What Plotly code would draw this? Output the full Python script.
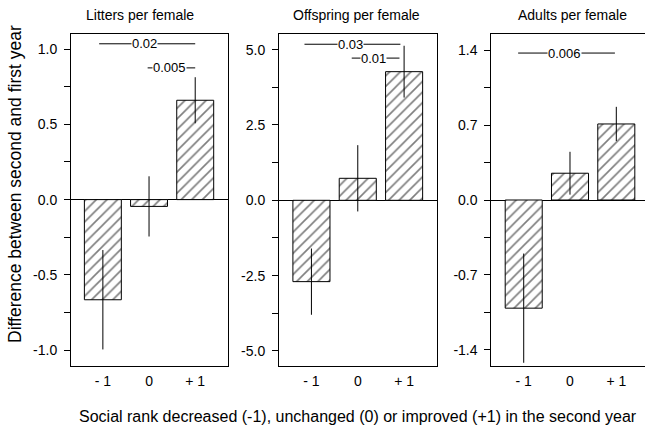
import plotly.graph_objects as go

# ---- data ----
categories = ["- 1", "0", "+ 1"]
panel_titles = ["Litters per female", "Offspring per female", "Adults per female"]

litters = [-0.665, -0.045, 0.66]
litters_err = [0.33, 0.20, 0.153]
offspring = [-2.70, 0.73, 4.27]
offspring_err = [1.10, 1.10, 0.86]
adults = [-1.01, 0.25, 0.71]
adults_err = [0.51, 0.20, 0.16]

litters_ticks = [-1.0, -0.5, 0.0, 0.5, 1.0]
offspring_ticks = [-5.0, -2.5, 0.0, 2.5, 5.0]
adults_ticks = [-1.4, -0.7, 0.0, 0.7, 1.4]

# significance brackets: panel, x start, x end, y, label
sig_panel = [1, 1, 2, 2, 3]
sig_x0 = [-0.08, 0.97, -0.15, 0.87, -0.12]
sig_x1 = [2.0, 2.0, 1.92, 1.9, 1.97]
sig_y = [1.035, 0.875, 5.18, 4.72, 1.372]
sig_label = ["0.02", "0.005", "0.03", "0.01", "0.006"]

y_label = "Difference between second and first year"
x_label = "Social rank decreased (-1), unchanged (0) or improved (+1) in the second year"

FONT = "Liberation Sans, Arial, sans-serif"
W, H = 645, 432

values = [litters, offspring, adults]
errors = [litters_err, offspring_err, adults_err]
ticks = [litters_ticks, offspring_ticks, adults_ticks]
yranges = [[-1.105, 1.10], [-5.5, 5.52], [-1.55, 1.55]]
minor_dt = [0.25, 1.25, 0.35]
xdomains = [[71 / W, 228 / W], [279 / W, 437 / W], [491.3 / W, 1.0]]
xranges = [[-0.69, 2.71], [-0.70, 2.71], [-0.70, 2.62]]
ydomain = [66 / H, 398 / H]

fig = go.Figure()
layout = {}
for i in range(3):
    n = "" if i == 0 else str(i + 1)
    fig.add_trace(go.Bar(
        x=[0, 1, 2], y=values[i], width=0.8,
        xaxis="x" + n, yaxis="y" + n,
        marker=dict(color="white",
                    line=dict(color="black", width=1),
                    pattern=dict(shape="/", fgcolor="black", bgcolor="white",
                                 size=7.5, solidity=0.22)),
        error_y=dict(type="data", array=errors[i], color="black",
                     thickness=1, width=0),
        showlegend=False,
    ))
    layout["xaxis" + n] = dict(
        domain=xdomains[i], range=xranges[i], anchor="y" + n,
        tickvals=[0, 1, 2], ticktext=categories,
        showline=True, linecolor="black", linewidth=1, mirror=True,
        ticks="", showgrid=False, zeroline=False,
        tickfont=dict(family=FONT, size=14, color="black"),
        ticklabelstandoff=2,
    )
    layout["yaxis" + n] = dict(
        domain=ydomain, range=yranges[i], anchor="x" + n,
        tickvals=ticks[i], ticktext=[f"{v:.1f}" for v in ticks[i]],
        showline=True, linecolor="black", linewidth=1, mirror=(i < 2),
        ticks="outside", ticklen=6, tickcolor="black", tickwidth=1,
        minor=dict(dtick=minor_dt[i], tick0=0, ticks="outside", ticklen=6,
                   tickcolor="black", tickwidth=1),
        showgrid=False, zeroline=True, zerolinecolor="black", zerolinewidth=1,
        tickfont=dict(family=FONT, size=14, color="black"),
        ticklabelstandoff=4,
    )

shapes = []
annotations = []
for p, x0, x1, y, lab in zip(sig_panel, sig_x0, sig_x1, sig_y, sig_label):
    n = "" if p == 1 else str(p)
    shapes.append(dict(type="line", xref="x" + n, yref="y" + n,
                       x0=x0, x1=x1, y0=y, y1=y,
                       line=dict(color="black", width=1)))
    annotations.append(dict(xref="x" + n, yref="y" + n,
                            x=(x0 + x1) / 2 - 0.05, y=y, text=lab, showarrow=False,
                            bgcolor="white", borderpad=0,
                            font=dict(family=FONT, size=13, color="black")))

title_x = [140, 356, 572]
for t, tx in zip(panel_titles, title_x):
    annotations.append(dict(xref="paper", yref="paper", x=tx / W, y=1 - 15 / H,
                            text=t, showarrow=False, xanchor="center", yanchor="middle",
                            font=dict(family=FONT, size=14, color="black")))

annotations.append(dict(xref="paper", yref="paper", x=15 / W, y=1 - 184 / H,
                        text=y_label, textangle=-90, showarrow=False,
                        xanchor="center", yanchor="middle",
                        font=dict(family=FONT, size=17.5, color="black")))
annotations.append(dict(xref="paper", yref="paper", x=358 / W, y=1 - 416 / H,
                        text=x_label, showarrow=False,
                        xanchor="center", yanchor="middle",
                        font=dict(family=FONT, size=16, color="black")))

fig.update_layout(
    width=W, height=H, margin=dict(l=0, r=0, t=0, b=0),
    paper_bgcolor="white", plot_bgcolor="white",
    shapes=shapes, annotations=annotations,
    font=dict(family=FONT, color="black"),
    **layout,
)
fig.write_html("out.html")
